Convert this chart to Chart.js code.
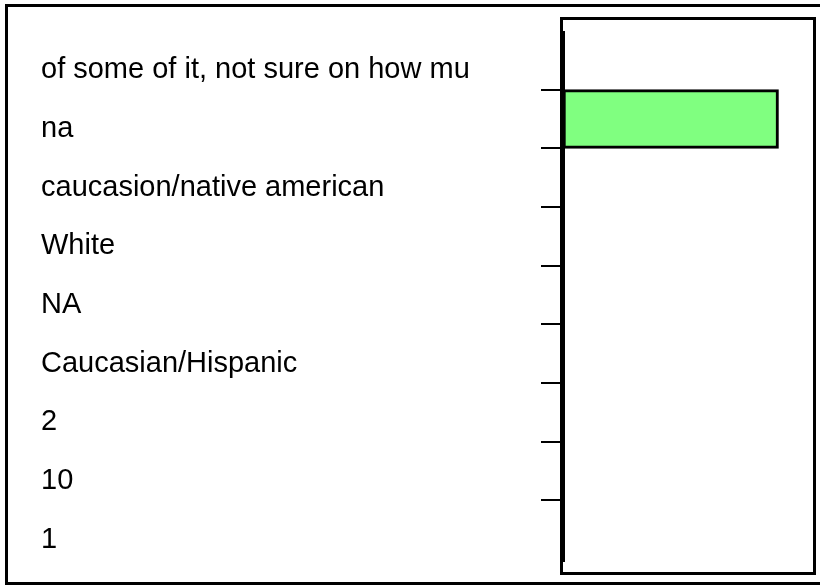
<!DOCTYPE html>
<html>
<head>
<meta charset="utf-8">
<script src="https://cdn.jsdelivr.net/npm/chart.js@4/dist/chart.umd.min.js"></script>
<style>
  html, body { margin: 0; padding: 0; background: #fff; overflow: hidden; }
  #wrap { position: relative; width: 820px; height: 586px; }
  #frame { position: absolute; left: 5px; top: 4px; width: 830px; height: 575px; border: 3px solid #000; }
  #chart { position: absolute; left: 0; top: 0; }
</style>
</head>
<body>
<div id="wrap">
  <div id="frame"></div>
  <canvas id="chart" width="820" height="586"></canvas>
</div>
<script>
// categories top to bottom, as in the reference
var categories = [
  'of some of it, not sure on how mu',
  'na',
  'caucasion/native american',
  'White',
  'NA',
  'Caucasian/Hispanic',
  '2',
  '10',
  '1'
];
var counts = [0, 1, 0, 0, 0, 0, 0, 0, 0];
var countMax = 1.16;

// box round the plot area plus the heavy value axis line
var plotFrame = {
  id: 'plotFrame',
  afterDraw: function(chart) {
    var a = chart.chartArea, ctx = chart.ctx;
    ctx.save();
    ctx.strokeStyle = '#000';
    ctx.lineWidth = 3;
    ctx.strokeRect(a.left - 1.5, a.top - 12.5, a.right - a.left + 3, a.bottom - a.top + 27);
    ctx.lineWidth = 5;
    ctx.beginPath();
    ctx.moveTo(a.left - 0.5, a.top);
    ctx.lineTo(a.left - 0.5, a.bottom + 3);
    ctx.stroke();
    ctx.restore();
  }
};

new Chart(document.getElementById('chart'), {
  type: 'bar',
  data: {
    labels: categories,
    datasets: [{
      data: counts,
      backgroundColor: '#80ff80',
      borderColor: '#000',
      borderWidth: 3,
      borderSkipped: false,
      barPercentage: 1,
      categoryPercentage: 1
    }]
  },
  options: {
    indexAxis: 'y',
    responsive: false,
    animation: false,
    layout: { padding: { left: 41, top: 31, bottom: 27, right: 7 } },
    plugins: { legend: { display: false }, tooltip: { enabled: false } },
    scales: {
      x: { display: false, min: 0, max: countMax },
      y: {
        afterFit: function(scale) { scale.width = 522; },
        border: { display: false },
        grid: {
          offset: true,
          drawOnChartArea: false,
          drawTicks: true,
          tickLength: 22,
          lineWidth: 2,
          color: function(ctx) {
            return (ctx.index === undefined || ctx.index === 0) ? 'rgba(0,0,0,0)' : '#000';
          }
        },
        ticks: {
          crossAlign: 'far',
          labelOffset: 10,
          color: '#000',
          font: { family: 'Liberation Sans, Arial, sans-serif', size: 29 }
        }
      }
    }
  },
  plugins: [plotFrame]
});
</script>
</body>
</html>
